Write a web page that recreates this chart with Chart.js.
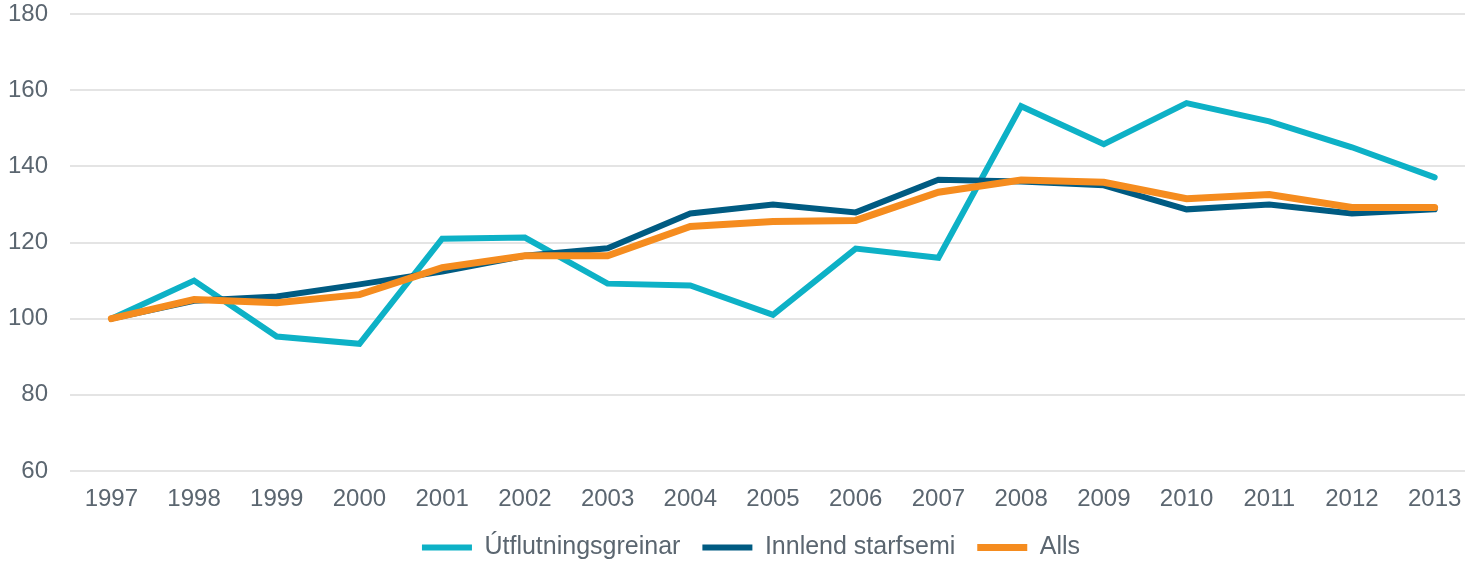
<!DOCTYPE html>
<html>
<head>
<meta charset="utf-8">
<script src="https://cdn.jsdelivr.net/npm/chart.js@4/dist/chart.umd.min.js"></script>
<style>
  html, body { margin: 0; padding: 0; background: #ffffff; overflow: hidden; }
  #wrap { width: 1476px; height: 561px; position: relative; }
</style>
</head>
<body>
<div id="wrap"><canvas id="c" width="1476" height="561"></canvas></div>
<script>
const years = ['1997','1998','1999','2000','2001','2002','2003','2004','2005','2006','2007','2008','2009','2010','2011','2012','2013'];
const utflutningsgreinar = [100, 110, 95.3, 93.4, 121, 121.3, 109.2, 108.7, 101, 118.4, 116, 155.8, 145.8, 156.6, 151.8, 145, 137.1];
const innlendStarfsemi = [100, 104.7, 105.8, 109, 112.4, 116.5, 118.5, 127.6, 130, 127.9, 136.5, 136, 135, 128.7, 130, 127.6, 128.7];
const alls = [100, 105, 104.2, 106.3, 113.4, 116.5, 116.5, 124.2, 125.5, 125.8, 133.2, 136.4, 135.8, 131.5, 132.6, 129.2, 129.2];
const seriesNames = ['Útflutningsgreinar', 'Innlend starfsemi', 'Alls'];

const FONT = "'Liberation Sans', Arial, sans-serif";
const TEXT = '#5b6670';

const legendShift = {
  id: 'legendShift',
  afterLayout(chart) {
    if (chart.legend) { chart.legend.left += 13; chart.legend.right += 13; }
  }
};

new Chart(document.getElementById('c'), {
  type: 'line',
  data: {
    labels: years,
    datasets: [
      { label: seriesNames[0], data: utflutningsgreinar, borderColor: '#0db1c6', backgroundColor: '#0db1c6', borderWidth: 6, order: 3 },
      { label: seriesNames[1], data: innlendStarfsemi, borderColor: '#005b82', backgroundColor: '#005b82', borderWidth: 6, order: 2 },
      { label: seriesNames[2], data: alls, borderColor: '#f58c1f', backgroundColor: '#f58c1f', borderWidth: 7, order: 1 }
    ].map(d => Object.assign(d, { pointRadius: 0, tension: 0, borderCapStyle: 'round', borderJoinStyle: 'miter', fill: false }))
  },
  plugins: [legendShift],
  options: {
    responsive: false,
    animation: false,
    layout: { padding: { top: 14, left: 0, right: 0, bottom: -9 } },
    plugins: {
      tooltip: { enabled: false },
      title: { display: false },
      legend: {
        position: 'bottom',
        align: 'center',
        labels: {
          usePointStyle: true,
          pointStyle: 'line',
          pointStyleWidth: 50,
          boxHeight: 24,
          padding: 22,
          color: TEXT,
          font: { family: FONT, size: 25 },
          sort: (a, b) => a.datasetIndex - b.datasetIndex
        }
      }
    },
    scales: {
      x: {
        offset: true,
        afterFit: (s) => { s.height = 42; s.paddingLeft = 0; s.paddingRight = 0; },
        grid: { display: false, drawTicks: false },
        border: { display: false },
        ticks: { color: TEXT, font: { family: FONT, size: 24 }, padding: 14, maxRotation: 0, autoSkip: false }
      },
      y: {
        min: 60, max: 180,
        afterFit: (s) => { s.width = 70; s.paddingTop = 0; s.paddingBottom = 0; },
        grid: { color: '#e4e4e4', lineWidth: 2, drawTicks: false },
        border: { display: false },
        ticks: { stepSize: 20, color: TEXT, font: { family: FONT, size: 24 }, padding: 22 }
      }
    }
  }
});
</script>
</body>
</html>
